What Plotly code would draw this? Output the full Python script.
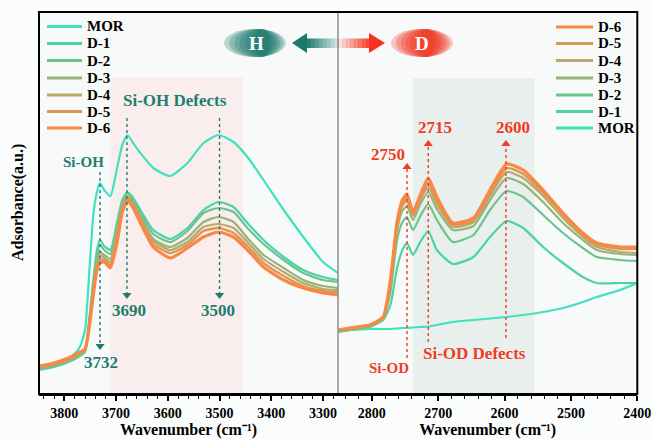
import plotly.graph_objects as go

W, H = 654, 439

# ---------------- data ----------------
series_names = ["MOR", "D-1", "D-2", "D-3", "D-4", "D-5", "D-6"]
series_colors = ["#3fe1bf", "#4bd3a7", "#6dc38d", "#95b578", "#b8a86a", "#d99858", "#fa8743"]
series_widths = [2.2, 2.2, 2.2, 2.2, 2.2, 2.4, 3.2]

# O-H stretching region (left panel)
wn_oh = [3849, 3828, 3808, 3783, 3770, 3760, 3754, 3744, 3737, 3731,
         3723, 3711, 3698, 3688, 3678, 3667, 3653, 3628, 3595, 3562,
         3531, 3502, 3473, 3446, 3415, 3376, 3338, 3300, 3271]
mor_oh = [0.27, 0.29, 0.32, 0.39, 0.47, 0.64, 1.04, 1.79, 2.02, 2.11,
          2.04, 1.98, 2.26, 2.49, 2.59, 2.51, 2.41, 2.26, 2.18, 2.31,
          2.51, 2.59, 2.52, 2.37, 2.14, 1.84, 1.57, 1.32, 1.21]
d1_oh = [0.24, 0.26, 0.29, 0.34, 0.38, 0.42, 0.64, 1.14, 1.44, 1.54,
         1.48, 1.44, 1.72, 1.94, 2.02, 1.96, 1.84, 1.64, 1.55, 1.66,
         1.84, 1.92, 1.87, 1.71, 1.54, 1.37, 1.24, 1.17, 1.14]
d2_oh = [0.25, 0.27, 0.30, 0.35, 0.39, 0.43, 0.63, 1.10, 1.39, 1.49,
         1.44, 1.40, 1.67, 1.91, 2.01, 1.94, 1.81, 1.60, 1.52, 1.63,
         1.81, 1.86, 1.82, 1.66, 1.50, 1.34, 1.21, 1.14, 1.12]
d3_oh = [0.26, 0.28, 0.31, 0.36, 0.40, 0.44, 0.62, 1.07, 1.34, 1.42,
         1.39, 1.35, 1.63, 1.88, 1.98, 1.91, 1.78, 1.55, 1.47, 1.56,
         1.72, 1.77, 1.72, 1.56, 1.39, 1.26, 1.14, 1.08, 1.06]
d4_oh = [0.26, 0.28, 0.31, 0.37, 0.41, 0.44, 0.61, 1.04, 1.30, 1.39,
         1.36, 1.32, 1.59, 1.86, 1.96, 1.90, 1.76, 1.53, 1.44, 1.52,
         1.67, 1.70, 1.66, 1.52, 1.35, 1.22, 1.11, 1.05, 1.04]
d5_oh = [0.27, 0.29, 0.32, 0.37, 0.41, 0.45, 0.60, 1.02, 1.27, 1.34,
         1.34, 1.29, 1.56, 1.84, 1.95, 1.88, 1.74, 1.50, 1.41, 1.49,
         1.63, 1.66, 1.61, 1.48, 1.31, 1.18, 1.08, 1.03, 1.02]
d6_oh = [0.28, 0.30, 0.33, 0.38, 0.42, 0.45, 0.59, 0.99, 1.24, 1.31,
         1.32, 1.26, 1.52, 1.82, 1.93, 1.86, 1.71, 1.47, 1.36, 1.46,
         1.57, 1.62, 1.57, 1.44, 1.27, 1.14, 1.06, 1.01, 0.99]

# O-D stretching region (right panel)
wn_od = [2851, 2833, 2803, 2783, 2772, 2762, 2754, 2747, 2738, 2727,
         2715, 2702, 2678, 2647, 2622, 2597, 2572, 2542, 2512, 2482,
         2461, 2426, 2400]
mor_od = [0.63, 0.64, 0.65, 0.65, 0.65, 0.655, 0.66, 0.66, 0.665, 0.67,
          0.675, 0.69, 0.72, 0.74, 0.755, 0.77, 0.79, 0.82, 0.86, 0.92,
          0.97, 1.04, 1.11]
d1_od = [0.62, 0.64, 0.67, 0.74, 0.89, 1.26, 1.44, 1.51, 1.39, 1.52,
         1.63, 1.44, 1.30, 1.37, 1.57, 1.73, 1.66, 1.47, 1.31, 1.17,
         1.11, 1.11, 1.11]
d2_od = [0.62, 0.64, 0.68, 0.76, 1.02, 1.54, 1.72, 1.77, 1.64, 1.78,
         1.90, 1.74, 1.52, 1.59, 1.84, 2.03, 1.97, 1.79, 1.61, 1.46,
         1.37, 1.34, 1.33]
d3_od = [0.63, 0.65, 0.68, 0.76, 1.08, 1.64, 1.83, 1.88, 1.74, 1.90,
         2.02, 1.85, 1.64, 1.68, 1.94, 2.16, 2.10, 1.92, 1.71, 1.54,
         1.44, 1.40, 1.39]
d4_od = [0.63, 0.65, 0.69, 0.77, 1.11, 1.68, 1.88, 1.93, 1.78, 1.94,
         2.07, 1.90, 1.67, 1.72, 1.98, 2.22, 2.16, 1.98, 1.76, 1.57,
         1.47, 1.42, 1.41]
d5_od = [0.64, 0.66, 0.69, 0.77, 1.13, 1.70, 1.91, 1.96, 1.80, 1.96,
         2.11, 1.94, 1.69, 1.74, 2.01, 2.26, 2.20, 2.01, 1.79, 1.59,
         1.49, 1.45, 1.45]
d6_od = [0.64, 0.66, 0.69, 0.77, 1.14, 1.72, 1.94, 2.00, 1.82, 1.99,
         2.16, 1.97, 1.71, 1.76, 2.04, 2.30, 2.24, 2.04, 1.81, 1.61,
         1.51, 1.47, 1.47]

oh_series = [mor_oh, d1_oh, d2_oh, d3_oh, d4_oh, d5_oh, d6_oh]
od_series = [mor_od, d1_od, d2_od, d3_od, d4_od, d5_od, d6_od]

# peak markers: position, label, line start, line tip (absorbance units)
oh_peaks = [3731, 3679, 3500]
oh_peak_labels = ["3732", "3690", "3500"]
oh_line_top = [2.22, 2.76, 2.76]
oh_line_tip = [0.48, 0.99, 0.99]
od_peaks = [2747, 2715, 2598]
od_peak_labels = ["2750", "2715", "2600"]
od_line_bottom = [0.36, 0.52, 0.56]
od_line_tip = [2.27, 2.50, 2.50]

oh_band = [3711, 3454, 3.17]
od_band = [2738, 2555, 3.16]

x_oh_range = [3849, 3271]
x_od_range = [2851, 2400]
y_range = [0, 3.82]
x_title = "Wavenumber (cm\u207b\u00b9)"
y_title = "Adsorbance(a.u.)"

FONT = "Liberation Serif"
TEAL = "#1d7d6f"
RED = "#f23a24"


def X(px):
    return px / W


def Y(py):
    return 1 - py / H


fig = go.Figure()

for name, col, lw, ys in zip(series_names, series_colors, series_widths, oh_series):
    fig.add_trace(go.Scatter(x=wn_oh, y=ys, mode="lines", name=name,
                             line=dict(color=col, width=lw, shape="spline", smoothing=0.55),
                             xaxis="x", yaxis="y", showlegend=False, hoverinfo="skip"))
for name, col, lw, ys in zip(series_names, series_colors, series_widths, od_series):
    fig.add_trace(go.Scatter(x=wn_od, y=ys, mode="lines", name=name,
                             line=dict(color=col, width=lw, shape="spline", smoothing=0.55),
                             xaxis="x2", yaxis="y2", showlegend=False, hoverinfo="skip"))

# arrowheads at the ends of the dotted peak lines
fig.add_trace(go.Scatter(x=oh_peaks, y=oh_line_tip, mode="markers",
                         marker=dict(symbol="triangle-down", size=8, color=TEAL, line=dict(width=0)),
                         xaxis="x", yaxis="y", showlegend=False, hoverinfo="skip"))
fig.add_trace(go.Scatter(x=od_peaks, y=od_line_tip, mode="markers",
                         marker=dict(symbol="triangle-up", size=8, color=RED, line=dict(width=0)),
                         xaxis="x2", yaxis="y2", showlegend=False, hoverinfo="skip"))

shapes = []
annotations = []

# shaded bands
shapes.append(dict(type="rect", xref="x", yref="y", x0=oh_band[0], x1=oh_band[1], y0=0, y1=oh_band[2],
                   fillcolor="rgba(250,222,222,0.42)", line=dict(width=0), layer="below"))
shapes.append(dict(type="rect", xref="x2", yref="y2", x0=od_band[0], x1=od_band[1], y0=0, y1=od_band[2],
                   fillcolor="rgba(212,226,222,0.45)", line=dict(width=0), layer="below"))

# dotted peak lines
for x, top, tip in zip(oh_peaks, oh_line_top, oh_line_tip):
    shapes.append(dict(type="line", xref="x", yref="y", x0=x, x1=x, y0=top, y1=tip,
                       line=dict(color=TEAL, width=1.4, dash="dot")))
for x, bot, tip in zip(od_peaks, od_line_bottom, od_line_tip):
    shapes.append(dict(type="line", xref="x2", yref="y2", x0=x, x1=x, y0=bot, y1=tip,
                       line=dict(color=RED, width=1.4, dash="dot")))

# frame + divider
shapes.append(dict(type="rect", xref="paper", yref="paper", x0=X(39), x1=X(637.3), y0=Y(394), y1=Y(12),
                   line=dict(color="black", width=2)))
shapes.append(dict(type="line", xref="paper", yref="paper", x0=X(338), x1=X(338), y0=Y(393), y1=Y(13),
                   line=dict(color="#8c8c8c", width=1.5)))

# H / D ellipses
for k in range(7):
    w = 62 - k * 8
    cx = 255 + k * 1.2
    shapes.append(dict(type="circle", xref="paper", yref="paper",
                       x0=X(cx - w / 2), x1=X(cx + w / 2), y0=Y(57), y1=Y(29),
                       fillcolor="#137367", opacity=0.27, line=dict(width=0)))
for k in range(7):
    w = 62 - k * 8
    cx = 422 + k * 0.8
    shapes.append(dict(type="circle", xref="paper", yref="paper",
                       x0=X(cx - w / 2), x1=X(cx + w / 2), y0=Y(57), y1=Y(29),
                       fillcolor="#f22d17", opacity=0.27, line=dict(width=0)))

# gradient arrows
nseg = 8
for i in range(nseg):
    x0 = 306 + i * (32 / nseg)
    shapes.append(dict(type="rect", xref="paper", yref="paper", x0=X(x0), x1=X(x0 + 32 / nseg + 0.3),
                       y0=Y(48), y1=Y(38.5), fillcolor="#197a6c", opacity=0.95 - i * 0.11,
                       line=dict(width=0)))
    x0r = 338 + i * (32 / nseg)
    shapes.append(dict(type="rect", xref="paper", yref="paper", x0=X(x0r), x1=X(x0r + 32 / nseg + 0.3),
                       y0=Y(48), y1=Y(38.5), fillcolor="#f5321d", opacity=0.12 + i * 0.11,
                       line=dict(width=0)))
shapes.append(dict(type="path", xref="paper", yref="paper",
                   path=f"M {X(292)} {Y(43)} L {X(307)} {Y(33)} L {X(307)} {Y(53)} Z",
                   fillcolor="#197a6c", line=dict(width=0)))
shapes.append(dict(type="path", xref="paper", yref="paper",
                   path=f"M {X(385)} {Y(43)} L {X(369)} {Y(33)} L {X(369)} {Y(53)} Z",
                   fillcolor="#f5321d", line=dict(width=0)))


def txt(px, py, s, size, color, angle=0):
    annotations.append(dict(x=X(px), y=Y(py), xref="paper", yref="paper", text=f"<b>{s}</b>",
                            showarrow=False, textangle=angle, xanchor="center", yanchor="middle",
                            font=dict(family=FONT, size=size, color=color)))


txt(256, 43, "H", 19, "white")
txt(422, 43, "D", 19, "white")
txt(175, 100, "Si-OH Defects", 17, TEAL)
txt(83, 162, "Si-OH", 15, TEAL)
for lab, (px, py) in zip(oh_peak_labels, [(101, 362), (129, 310), (218, 310)]):
    txt(px, py, lab, 17, TEAL)
for lab, (px, py) in zip(od_peak_labels, [(388, 154), (435, 127), (513, 127)]):
    txt(px, py, lab, 17, RED)
txt(474, 353, "Si-OD Defects", 17, RED)
txt(389, 368, "Si-OD", 15, RED)
txt(18, 203, y_title, 16, "black", angle=-90)

# manual legends
left_rows = [26.5, 43.5, 60.5, 78, 95, 111.5, 128]
for name, col, lw, yy in zip(series_names, series_colors, series_widths, left_rows):
    shapes.append(dict(type="line", xref="paper", yref="paper", x0=X(47), x1=X(82), y0=Y(yy), y1=Y(yy),
                       line=dict(color=col, width=min(lw + 0.6, 3.2))))
    annotations.append(dict(x=X(85), y=Y(yy), xref="paper", yref="paper", text=f"<b>{name}</b>",
                            showarrow=False, xanchor="left", yanchor="middle",
                            font=dict(family=FONT, size=15, color="black")))
right_rows = [27, 43.5, 60.5, 78, 95, 111.5, 128]
for name, col, lw, yy in zip(series_names[::-1], series_colors[::-1], series_widths[::-1], right_rows):
    shapes.append(dict(type="line", xref="paper", yref="paper", x0=X(556), x1=X(593), y0=Y(yy), y1=Y(yy),
                       line=dict(color=col, width=min(lw + 0.6, 3.2))))
    annotations.append(dict(x=X(596), y=Y(yy), xref="paper", yref="paper", text=f"<b>{name}</b>",
                            showarrow=False, xanchor="left", yanchor="middle",
                            font=dict(family=FONT, size=15, color="black")))

xcommon = dict(showgrid=False, zeroline=False, showline=True, linecolor="black", linewidth=2,
               ticks="outside", ticklen=5, tickwidth=1.5, tickcolor="black", dtick=100,
               automargin=False,
               title=dict(text=f"<b>{x_title}</b>", standoff=1,
                          font=dict(family=FONT, size=16, color="black")),
               tickfont=dict(family=FONT, size=14, color="black", weight="bold"),
               minor=dict(ticks="outside", ticklen=3, tickwidth=1, tickcolor="black", dtick=20))
ycommon = dict(visible=False, range=y_range, domain=[Y(394), Y(12)])

fig.update_layout(
    width=W, height=H, autosize=False,
    margin=dict(l=0, r=0, t=0, b=0),
    paper_bgcolor="#fbfdfc", plot_bgcolor="#f8faf9",
    showlegend=False,
    xaxis=dict(domain=[X(39), X(338)], range=x_oh_range, anchor="y", **xcommon),
    yaxis=dict(anchor="x", **ycommon),
    xaxis2=dict(domain=[X(338), X(637.3)], range=x_od_range, anchor="y2", **xcommon),
    yaxis2=dict(anchor="x2", **ycommon),
    shapes=shapes,
    annotations=annotations,
)

fig.write_html("out.html")
